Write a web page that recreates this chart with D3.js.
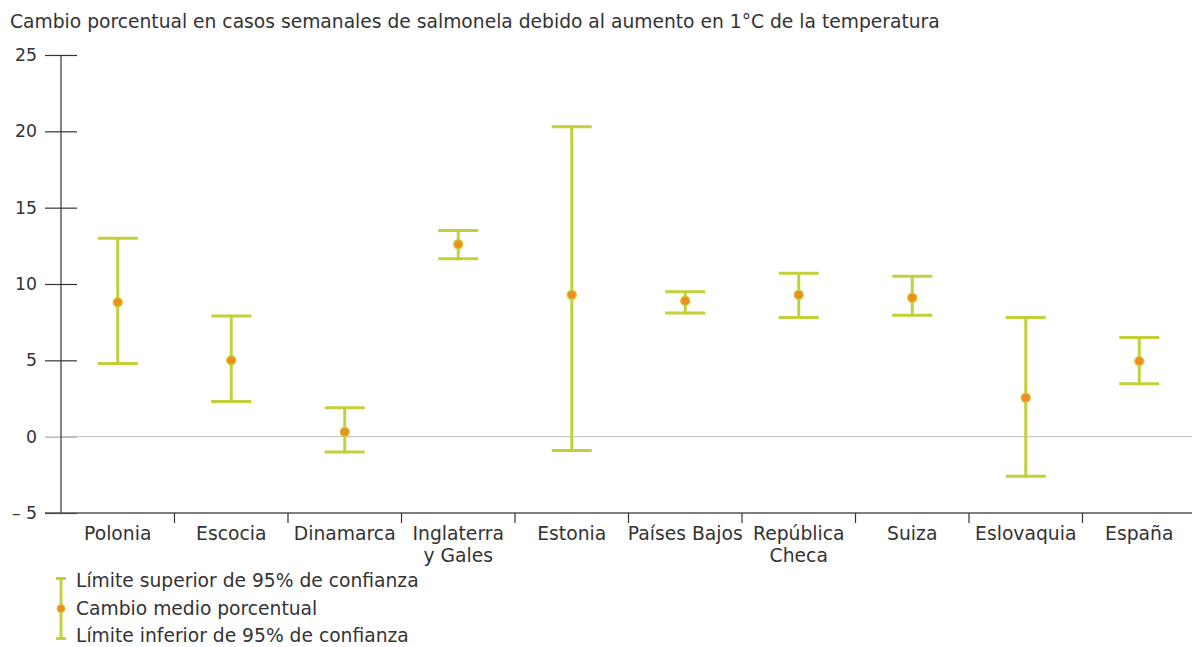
<!DOCTYPE html>
<html>
<head>
<meta charset="utf-8">
<script src="https://cdn.jsdelivr.net/npm/d3@7"></script>
<style>
  html, body { margin: 0; padding: 0; background: #fff; }
  svg { display: block; font-family: "DejaVu Sans", sans-serif; }
</style>
</head>
<body>
<svg id="chart" width="1192" height="647"></svg>
<script>
const titleText = "Cambio porcentual en casos semanales de salmonela debido al aumento en 1°C de la temperatura";
const categories = ["Polonia", "Escocia", "Dinamarca", "Inglaterra\ny Gales", "Estonia", "Países Bajos", "República\nCheca", "Suiza", "Eslovaquia", "España"];
const upper = [13.0, 7.9, 1.9, 13.5, 20.3, 9.5, 10.7, 10.5, 7.8, 6.5];
const mean  = [8.8, 5.0, 0.3, 12.6, 9.3, 8.9, 9.3, 9.1, 2.55, 4.95];
const lower = [4.8, 2.3, -1.0, 11.65, -0.9, 8.1, 7.8, 7.95, -2.6, 3.47];
const yTicks = [25, 20, 15, 10, 5, 0, -5];
const legendLabels = ["Límite superior de 95% de confianza", "Cambio medio porcentual", "Límite inferior de 95% de confianza"];

const GREEN = "#c2d03a", ORANGE = "#f58a1f", TEXT = "#333";
const FONT = "'DejaVu Sans', Verdana, sans-serif";
const svg = d3.select("#chart");

// font size fitting helper: size at which text has the target width
function fitSize(str, target) {
  const t = svg.append("text").attr("font-size", 100).attr("font-family", FONT).text(str);
  const w = t.node().getComputedTextLength();
  t.remove();
  return 100 * target / w;
}
const titleSize = fitSize(titleText, 930);
const catSize = fitSize("Países Bajos", 115);
const legSize = fitSize(legendLabels[0], 343);
const tickSize = fitSize("25", 22);

const x = d3.scaleBand().domain(categories).range([61, 1196]).padding(0);
const y = d3.scaleLinear().domain([-5, 25]).range([513, 55]);

// title
svg.append("text").attr("x", 10).attr("y", 28)
  .attr("font-size", titleSize).attr("fill", TEXT).text(titleText);

// zero grid line
svg.append("line").attr("x1", 61).attr("x2", 1192)
  .attr("y1", y(0)).attr("y2", y(0)).attr("stroke", "#bdbdbd").attr("stroke-width", 1);

// y axis
const yAxis = d3.axisLeft(y).tickValues(yTicks).tickSize(16).tickPadding(8)
  .tickFormat(d => d < 0 ? "– " + Math.abs(d) : String(d));
const gy = svg.append("g").attr("transform", "translate(61,0)").call(yAxis);
gy.select(".domain").remove();
gy.selectAll(".tick line").attr("x1", -16).attr("x2", 16)
  .attr("stroke", d => d === 0 ? "#aaa" : "#333").attr("stroke-width", 1.2);
gy.selectAll(".tick text").attr("font-size", tickSize).attr("fill", TEXT)
  .attr("font-family", FONT);
svg.append("line").attr("x1", 61).attr("x2", 61).attr("y1", y(25)).attr("y2", y(-5))
  .attr("stroke", "#333").attr("stroke-width", 1.2);

// x axis line
svg.append("line").attr("x1", 45).attr("x2", 1192).attr("y1", y(-5)).attr("y2", y(-5))
  .attr("stroke", "#555").attr("stroke-width", 1.5);

// category separators
svg.append("g").selectAll("line").data(categories.slice(1)).join("line")
  .attr("x1", d => x(d)).attr("x2", d => x(d))
  .attr("y1", y(-5)).attr("y2", y(-5) + 10)
  .attr("stroke", "#333").attr("stroke-width", 1.2);

// category labels
const lbl = svg.append("g").selectAll("text").data(categories).join("text")
  .attr("x", d => x(d) + x.bandwidth() / 2)
  .attr("y", 540)
  .attr("text-anchor", "middle").attr("font-size", catSize).attr("fill", TEXT);
lbl.each(function(d) {
  const lines = d.split("\n");
  const t = d3.select(this);
  lines.forEach((l, i) => {
    t.append("tspan").attr("x", x(d) + x.bandwidth() / 2).attr("dy", i === 0 ? 0 : 22).text(l);
  });
});

// error bars
const capW = 40;
const g = svg.append("g");
categories.forEach((c, i) => {
  const cx = x(c) + x.bandwidth() / 2;
  g.append("line").attr("x1", cx).attr("x2", cx).attr("y1", y(upper[i])).attr("y2", y(lower[i]) + 1.5)
    .attr("stroke", GREEN).attr("stroke-width", 3);
  g.append("line").attr("x1", cx - capW / 2).attr("x2", cx + capW / 2)
    .attr("y1", y(upper[i])).attr("y2", y(upper[i])).attr("stroke", GREEN).attr("stroke-width", 3);
  g.append("line").attr("x1", cx - capW / 2).attr("x2", cx + capW / 2)
    .attr("y1", y(lower[i])).attr("y2", y(lower[i])).attr("stroke", GREEN).attr("stroke-width", 3);
  g.append("circle").attr("cx", cx).attr("cy", y(mean[i])).attr("r", 4.5)
    .attr("fill", ORANGE).attr("stroke", GREEN).attr("stroke-width", 1.5);
});

// legend
const lx = 61, ly = [580, 608, 635];
svg.append("line").attr("x1", lx).attr("x2", lx).attr("y1", 578).attr("y2", 639)
  .attr("stroke", GREEN).attr("stroke-width", 3);
svg.append("line").attr("x1", lx - 5).attr("x2", lx + 5).attr("y1", 578.5).attr("y2", 578.5)
  .attr("stroke", GREEN).attr("stroke-width", 3);
svg.append("line").attr("x1", lx - 5).attr("x2", lx + 5).attr("y1", 638.5).attr("y2", 638.5)
  .attr("stroke", GREEN).attr("stroke-width", 3);
svg.append("circle").attr("cx", lx).attr("cy", 608.5).attr("r", 4)
  .attr("fill", ORANGE).attr("stroke", GREEN).attr("stroke-width", 1);
svg.append("g").selectAll("text").data(legendLabels).join("text")
  .attr("x", 76).attr("y", (d, i) => ly[i]).attr("dy", "0.35em")
  .attr("font-size", legSize).attr("fill", TEXT).text(d => d);
</script>
</body>
</html>
